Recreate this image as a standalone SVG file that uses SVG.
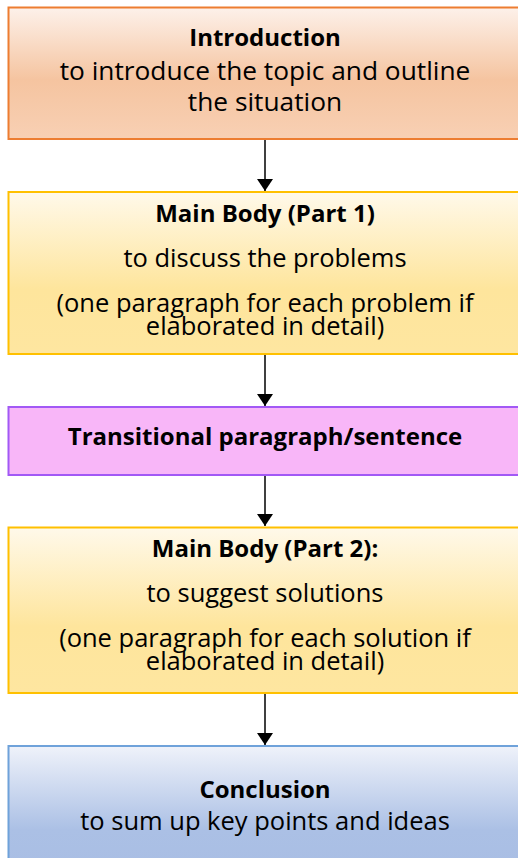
<svg xmlns="http://www.w3.org/2000/svg" width="518" height="858" viewBox="0 0 518 858">
<defs>
<linearGradient id="gOrange" x1="0" y1="0" x2="0" y2="1">
<stop offset="0" stop-color="#fdf1ea"/>
<stop offset="0.55" stop-color="#f5c4a0"/>
<stop offset="1" stop-color="#f8d0b4"/>
</linearGradient>
<linearGradient id="gYellow" x1="0" y1="0" x2="0" y2="1">
<stop offset="0" stop-color="#fff9ea"/>
<stop offset="0.6" stop-color="#fee59c"/>
<stop offset="1" stop-color="#fee6a0"/>
</linearGradient>
<linearGradient id="gBlue" x1="0" y1="0" x2="0" y2="1">
<stop offset="0" stop-color="#eff2fa"/>
<stop offset="0.7" stop-color="#abc0e5"/>
<stop offset="1" stop-color="#a9bee4"/>
</linearGradient>
<marker id="arr" viewBox="0 0 12 16" refX="12" refY="8" markerWidth="12" markerHeight="16" markerUnits="userSpaceOnUse" orient="auto">
<path d="M0,0 L12,8 L0,16 Z" fill="#000"/>
</marker>
</defs>
<style>
text{font-family:"Open Sans","Noto Sans",sans-serif;fill:#000;text-anchor:middle}
.t{font-weight:bold;font-size:24px}
.b{font-size:25.5px}
.bi{font-size:26.3px}
.box{stroke-width:2}
.conn line{stroke:#000;stroke-width:1.5}
</style>
<rect width="518" height="858" fill="#fff"/>
<g id="intro">
<rect class="box" x="8.5" y="7.5" width="514" height="131.5" fill="url(#gOrange)" stroke="#ed7d31"/>
<text class="t" x="265" y="46">Introduction</text>
<text class="bi" x="265" y="80">to introduce the topic and outline</text>
<text class="bi" x="265" y="111">the situation</text>
</g>
<g id="body1">
<rect class="box" x="8.5" y="192" width="514" height="162" fill="url(#gYellow)" stroke="#ffc000"/>
<text class="t" x="265" y="222">Main Body (Part 1)</text>
<text class="b" x="265" y="267">to discuss the problems</text>
<text class="b" x="265" y="312">(one paragraph for each problem if</text>
<text class="b" x="265" y="335">elaborated in detail)</text>
</g>
<g id="transition">
<rect class="box" x="8.5" y="407" width="514" height="68" fill="#f8b6f8" stroke="#a259f5"/>
<text class="t" x="265" y="445">Transitional paragraph/sentence</text>
</g>
<g id="body2">
<rect class="box" x="8.5" y="527.5" width="514" height="165.5" fill="url(#gYellow)" stroke="#ffc000"/>
<text class="t" x="265" y="557">Main Body (Part 2):</text>
<text class="b" x="265" y="602">to suggest solutions</text>
<text class="b" x="265" y="647">(one paragraph for each solution if</text>
<text class="b" x="265" y="670">elaborated in detail)</text>
</g>
<g id="conclusion">
<rect class="box" x="8.5" y="746" width="514" height="120" fill="url(#gBlue)" stroke="#6fa2da"/>
<text class="t" x="265" y="798">Conclusion</text>
<text class="b" x="265" y="830">to sum up key points and ideas</text>
</g>
<g id="connectors" class="conn">
<line x1="265" y1="140" x2="265" y2="191" marker-end="url(#arr)"/>
<line x1="265" y1="355" x2="265" y2="406" marker-end="url(#arr)"/>
<line x1="265" y1="476" x2="265" y2="526" marker-end="url(#arr)"/>
<line x1="265" y1="694" x2="265" y2="745" marker-end="url(#arr)"/>
</g>
</svg>
